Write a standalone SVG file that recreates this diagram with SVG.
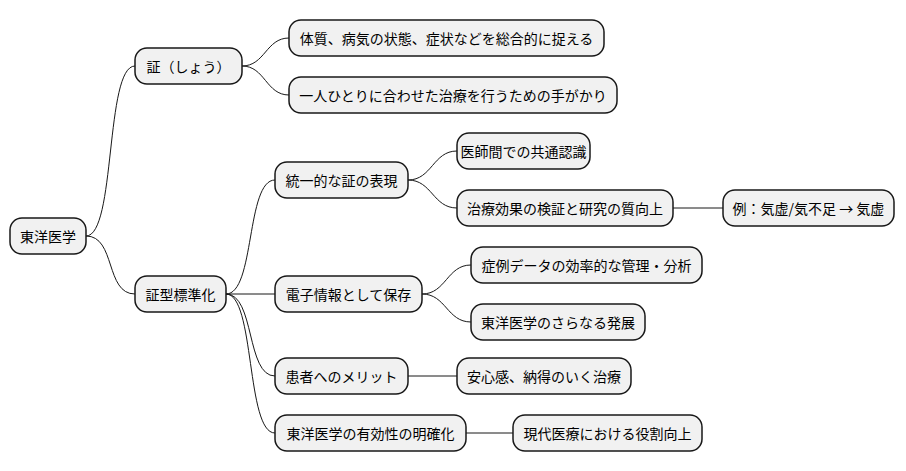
<svg xmlns="http://www.w3.org/2000/svg" width="906" height="471" viewBox="0 0 906 471">
<style>
.n{fill:#F1F1F1;stroke:#181818;stroke-width:1.5}
text{font-family:"Noto Sans CJK JP","Liberation Sans",sans-serif;font-size:14px;fill:#000;text-anchor:middle;dominant-baseline:central}
#c path{fill:none;stroke:#181818;stroke-width:1}
</style>
<rect width="906" height="471" fill="#ffffff"/>
<g id="c">
<path d="M86,236 C116,236 105,66 135,66"/>
<path d="M86,236 C116,236 105,294 135,294"/>
<path d="M242,66 C265,66 266,38 289,38"/>
<path d="M242,66 C265,66 266,95 289,95"/>
<path d="M226,294 C255,294 246,180 275,180"/>
<path d="M226,294 L275,294"/>
<path d="M226,294 C255,294 246,376 275,376"/>
<path d="M226,294 C255,294 246,433 275,433"/>
<path d="M408,180 C432,180 433,151 457,151"/>
<path d="M408,180 C432,180 433,208 457,208"/>
<path d="M673,208 L723,208"/>
<path d="M422,294 C446,294 447,265 471,265"/>
<path d="M422,294 C446,294 447,322 471,322"/>
<path d="M408,376 L457,376"/>
<path d="M466,433 L513,433"/>
</g>
<g id="n1"><rect class="n" x="10" y="218" width="76" height="36" rx="12"/><text x="48" y="236">東洋医学</text></g>
<g id="n2"><rect class="n" x="135" y="48" width="107" height="36" rx="12"/><text x="188.5" y="66">証（しょう）</text></g>
<g id="n3"><rect class="n" x="289" y="20" width="315" height="36" rx="12"/><text x="446.5" y="38">体質、病気の状態、症状などを総合的に捉える</text></g>
<g id="n4"><rect class="n" x="289" y="77" width="328" height="36" rx="12"/><text x="453" y="95">一人ひとりに合わせた治療を行うための手がかり</text></g>
<g id="n5"><rect class="n" x="135" y="276" width="91" height="36" rx="12"/><text x="180.5" y="294">証型標準化</text></g>
<g id="n6"><rect class="n" x="275" y="162" width="133" height="36" rx="12"/><text x="341.5" y="180">統一的な証の表現</text></g>
<g id="n7"><rect class="n" x="457" y="133" width="133" height="36" rx="12"/><text x="523.5" y="151">医師間での共通認識</text></g>
<g id="n8"><rect class="n" x="457" y="190" width="216" height="36" rx="12"/><text x="565" y="208">治療効果の検証と研究の質向上</text></g>
<g id="n9"><rect class="n" x="723" y="190" width="171" height="36" rx="12"/><text x="808.5" y="208">例：気虚/気不足 → 気虚</text></g>
<g id="n10"><rect class="n" x="275" y="276" width="147" height="36" rx="12"/><text x="348.5" y="294">電子情報として保存</text></g>
<g id="n11"><rect class="n" x="471" y="247" width="231" height="36" rx="12"/><text x="586.5" y="265">症例データの効率的な管理・分析</text></g>
<g id="n12"><rect class="n" x="471" y="304" width="174" height="36" rx="12"/><text x="558" y="322">東洋医学のさらなる発展</text></g>
<g id="n13"><rect class="n" x="275" y="358" width="133" height="36" rx="12"/><text x="341.5" y="376">患者へのメリット</text></g>
<g id="n14"><rect class="n" x="457" y="358" width="174" height="36" rx="12"/><text x="544" y="376">安心感、納得のいく治療</text></g>
<g id="n15"><rect class="n" x="275" y="415" width="191" height="36" rx="12"/><text x="370.5" y="433">東洋医学の有効性の明確化</text></g>
<g id="n16"><rect class="n" x="513" y="415" width="189" height="36" rx="12"/><text x="607.5" y="433">現代医療における役割向上</text></g>
</svg>
